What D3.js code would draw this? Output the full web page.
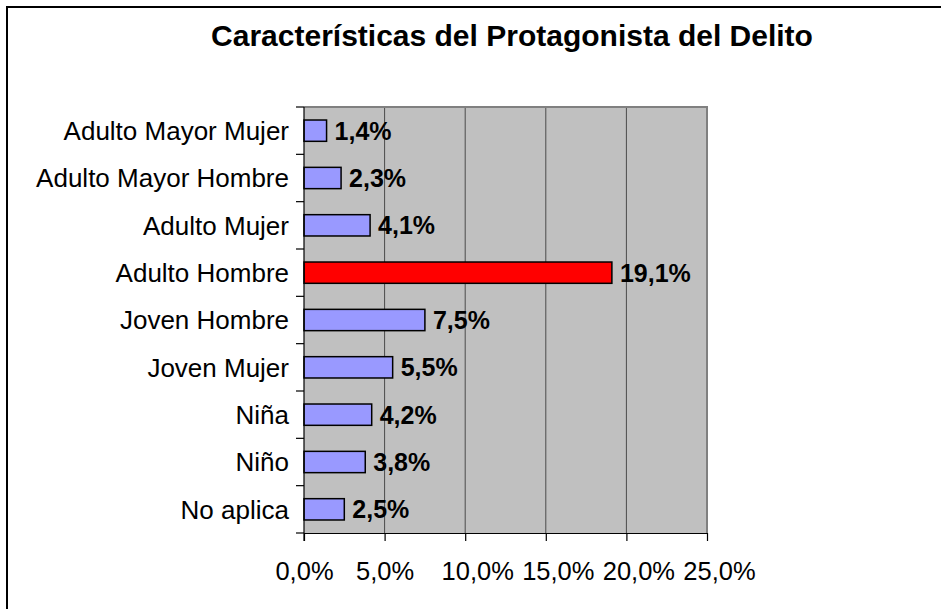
<!DOCTYPE html>
<html>
<head>
<meta charset="utf-8">
<script src="https://cdn.jsdelivr.net/npm/d3@7"></script>
<style>
  body { margin: 0; background: #fff; }
  svg text { font-family: "Liberation Sans", Arial, sans-serif; fill: #000; }
</style>
</head>
<body>
<div class="container"></div>
<script>
const width = 941,
    height = 609,
    plotLeft = 304,
    plotRight = 707,
    plotTop = 107,
    plotBottom = 533;

// data
const categories = ["Adulto Mayor Mujer", "Adulto Mayor Hombre", "Adulto Mujer", "Adulto Hombre",
                    "Joven Hombre", "Joven Mujer", "Niña", "Niño", "No aplica"];
const values = [1.4, 2.3, 4.1, 19.1, 7.5, 5.5, 4.2, 3.8, 2.5];
const highlighted = ["Adulto Hombre"];
const xTicks = [0, 5, 10, 15, 20, 25];
const title = "Características del Protagonista del Delito";

const fmt = (v) => v.toFixed(1).replace('.', ',') + '%';

const svg = d3.select('.container')
              .append('svg')
              .attr('width', width)
              .attr('height', height);

// outer frame
svg.append('rect')
   .attr('x', 7).attr('y', 7)
   .attr('width', width + 10).attr('height', height + 10)
   .attr('fill', 'none')
   .attr('stroke', '#000')
   .attr('stroke-width', 2);

svg.append('text')
   .attr('x', 512)
   .attr('y', 46)
   .attr('text-anchor', 'middle')
   .style('font-size', '30px')
   .style('font-weight', 'bold')
   .text(title);

const xScale = d3.scaleLinear()
                 .domain([0, 25])
                 .range([plotLeft, plotRight]);

const yScale = d3.scaleBand()
                 .domain(categories)
                 .range([plotTop, plotBottom])
                 .paddingInner(0.55)
                 .paddingOuter(0.275);

// plot background
svg.append('rect')
   .attr('x', plotLeft).attr('y', plotTop)
   .attr('width', plotRight - plotLeft).attr('height', plotBottom - plotTop)
   .attr('fill', '#c0c0c0');

// gridlines
svg.append('g')
   .selectAll('line')
   .data(xTicks.slice(1, -1))
   .enter()
   .append('line')
   .attr('x1', (d) => xScale(d)).attr('x2', (d) => xScale(d))
   .attr('y1', plotTop).attr('y2', plotBottom)
   .attr('stroke', '#4a4a4a')
   .attr('stroke-width', 1);

// grey border on top and right
svg.append('path')
   .attr('d', `M${plotLeft},${plotTop}H${plotRight}V${plotBottom}`)
   .attr('fill', 'none')
   .attr('stroke', '#808080')
   .attr('stroke-width', 2);

// bars
svg.append('g')
   .selectAll('rect')
   .data(values)
   .enter()
   .append('rect')
   .attr('x', xScale(0))
   .attr('y', (d, i) => yScale(categories[i]))
   .attr('width', (d) => xScale(d) - xScale(0))
   .attr('height', yScale.bandwidth())
   .attr('fill', (d, i) => highlighted.includes(categories[i]) ? '#ff0000' : '#9999ff')
   .attr('stroke', '#000')
   .attr('stroke-width', 1.5);

// value labels
svg.append('g')
   .selectAll('text')
   .data(values)
   .enter()
   .append('text')
   .attr('x', (d) => xScale(d) + 8)
   .attr('y', (d, i) => yScale(categories[i]) + yScale.bandwidth() / 2)
   .attr('dy', '0.36em')
   .style('font-size', '25px')
   .style('font-weight', 'bold')
   .text((d) => fmt(d));

// left axis: ticks between categories
const yAxis = svg.append('g');
const bounds = d3.range(categories.length + 1).map((i) => plotTop + i * (plotBottom - plotTop) / categories.length);
yAxis.append('line')
     .attr('x1', plotLeft).attr('x2', plotLeft)
     .attr('y1', plotTop).attr('y2', plotBottom + 8)
     .attr('stroke', '#000').attr('stroke-width', 1.2);
yAxis.selectAll('.tk')
     .data(bounds)
     .enter()
     .append('line')
     .attr('x1', plotLeft - 8).attr('x2', plotLeft)
     .attr('y1', (d) => d).attr('y2', (d) => d)
     .attr('stroke', '#000').attr('stroke-width', 1.2);
yAxis.selectAll('text')
     .data(categories)
     .enter()
     .append('text')
     .attr('x', plotLeft - 15)
     .attr('y', (d) => yScale(d) + yScale.bandwidth() / 2)
     .attr('dy', '0.36em')
     .attr('text-anchor', 'end')
     .style('font-size', '26px')
     .text((d) => d);

// bottom axis
const xAxis = svg.append('g')
                 .attr('transform', `translate(0, ${plotBottom})`)
                 .call(d3.axisBottom(xScale)
                         .tickValues(xTicks)
                         .tickSize(8)
                         .tickSizeOuter(0)
                         .tickFormat(fmt));
xAxis.select('.domain').attr('stroke', '#000').attr('stroke-width', 1.2);
xAxis.selectAll('.tick line').attr('stroke', '#000').attr('stroke-width', 1.2);
// wider labels sit a little to the right of their tick, as in the original
xAxis.selectAll('.tick text')
     .attr('y', 47)
     .attr('dy', 0)
     .attr('dx', (d) => d >= 10 ? 12 : 0)
     .style('font-size', '25.5px')
     .style('font-family', '"Liberation Sans", Arial, sans-serif');
</script>
</body>
</html>
